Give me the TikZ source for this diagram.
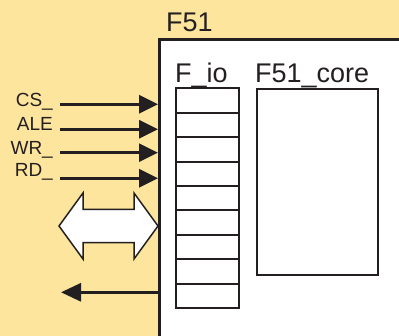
\documentclass[tikz,border=0pt]{standalone}
\usepackage{fontspec}
\setmainfont{Liberation Sans}
\usetikzlibrary{arrows.meta}
\definecolor{bgyellow}{RGB}{253,229,158}
\definecolor{ink}{RGB}{35,31,32}

\begin{document}
\begin{tikzpicture}[x=1pt, y=-1pt,
    sig/.style={ink, line width=3pt, -{Triangle[length=19pt, width=18pt]}},
    pin/.style={anchor=base east, inner sep=0pt, text=ink, font=\fontsize{19}{22}\selectfont},
    title/.style={anchor=base west, inner sep=0pt, text=ink, font=\fontsize{27}{31}\selectfont},
    iocell/.style={draw=ink, line width=2pt, minimum width=63pt, minimum height=24.4pt, inner sep=0pt, fill=white},
    block/.style={draw=ink, line width=2pt, minimum width=121pt, minimum height=186.5pt, inner sep=0pt}
]

% Define background
\clip (0,0) rectangle (399,336);
\fill[bgyellow] (0,0) rectangle (399,336);
\draw[ink, line width=3pt, fill=white] (159.5,39.5) rectangle (405,345);

% Define labels
\node[title] (chip) at (166,32) {F51};
\node[title] (iolabel) at (175,83) {F\_io};
\node[title] (corelabel) at (255,83) {F51\_core};

% Define blocks
\foreach \i in {0,...,8}
    \node[iocell] (io\i) at (207.5, 100.7+24.4*\i) {};
\node[block] (core) at (317.5, 182.2) {};

% Define pins
\node[pin] (cs) at (53,106.7) {CS\_};
\node[pin] (ale) at (53,130.7) {ALE};
\node[pin] (wr) at (53,155) {WR\_};
\node[pin] (rd) at (53,176.7) {RD\_};

\coordinate (csA) at (60,104.3);
\coordinate (csB) at (158,104.3);
\coordinate (aleA) at (60,129.3);
\coordinate (aleB) at (158,129.3);
\coordinate (wrA) at (60,152.7);
\coordinate (wrB) at (158,152.7);
\coordinate (rdA) at (60,178.3);
\coordinate (rdB) at (158,178.3);
\coordinate (outA) at (158,292.3);
\coordinate (outB) at (61,292.3);

% Define arrows
\draw[sig] (csA) -- (csB);
\draw[sig] (aleA) -- (aleB);
\draw[sig] (wrA) -- (wrB);
\draw[sig] (rdA) -- (rdB);
\draw[sig, -{Triangle[length=20pt, width=18pt]}] (outA) -- (outB);

% Define data bus
\draw[ink, line width=1.5pt, fill=white] (59,226) -- (83,193) -- (83,209.3) -- (134,209.3)
    -- (134,193) -- (158,226) -- (134,259) -- (134,242.7) -- (83,242.7) -- (83,259) -- cycle;

\end{tikzpicture}
\end{document}
